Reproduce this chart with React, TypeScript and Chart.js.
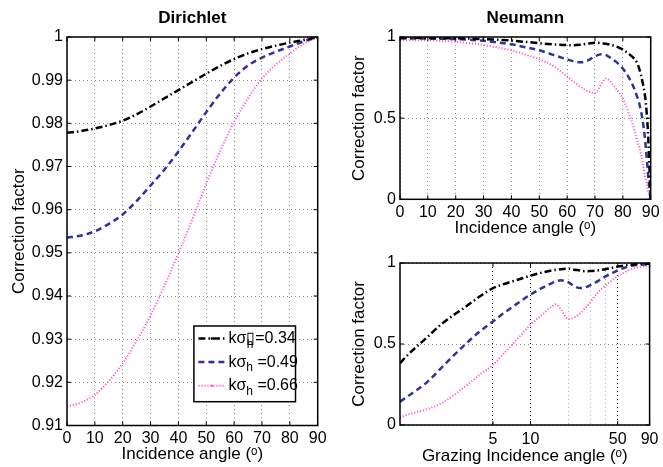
import React, { useEffect, useRef } from 'react';
import Chart from 'chart.js/auto';

// ---------------- data ----------------
const dirichletAngles = [0, 5, 10, 15, 20, 25, 30, 35, 40, 45, 50, 55, 60, 65, 70, 75, 80, 85, 90];
const dirichletK034 = [0.9778, 0.9782, 0.9788, 0.9796, 0.9806, 0.9821, 0.9839, 0.9858, 0.9877, 0.9896, 0.9915, 0.9933, 0.9949, 0.9962, 0.9972, 0.998, 0.9987, 0.9993, 1.0];
const dirichletK049 = [0.9535, 0.954, 0.955, 0.9567, 0.9589, 0.962, 0.9656, 0.9693, 0.9735, 0.978, 0.9826, 0.9869, 0.9906, 0.9934, 0.9952, 0.9966, 0.9978, 0.999, 1.0];
const dirichletK066 = [0.9144, 0.9153, 0.9171, 0.9203, 0.9244, 0.9296, 0.9355, 0.9424, 0.9499, 0.9578, 0.9661, 0.9736, 0.9803, 0.9858, 0.9904, 0.9936, 0.9962, 0.9984, 1.0];

const neumannAngles = [0, 5, 10, 15, 20, 25, 30, 35, 40, 45, 50, 55, 60, 62.5, 65, 67.5, 70, 72.5, 74, 75, 77.5, 80, 82, 84, 85, 86, 87, 88, 88.5, 89, 89.1, 90];
const neumannK034 = [0.995, 0.995, 0.994, 0.993, 0.992, 0.99, 0.987, 0.983, 0.978, 0.97, 0.962, 0.955, 0.95, 0.949, 0.953, 0.959, 0.965, 0.962, 0.958, 0.955, 0.942, 0.922, 0.898, 0.868, 0.845, 0.798, 0.728, 0.632, 0.545, 0.42, 0.381, 0];
const neumannK049 = [0.99, 0.99, 0.99, 0.989, 0.987, 0.983, 0.977, 0.967, 0.955, 0.937, 0.918, 0.89, 0.862, 0.85, 0.845, 0.856, 0.882, 0.893, 0.888, 0.878, 0.848, 0.805, 0.755, 0.686, 0.639, 0.583, 0.498, 0.365, 0.268, 0.168, 0.144, 0];
const neumannK066 = [0.98, 0.98, 0.979, 0.976, 0.97, 0.962, 0.951, 0.936, 0.918, 0.892, 0.862, 0.822, 0.757, 0.722, 0.69, 0.665, 0.655, 0.715, 0.745, 0.735, 0.683, 0.62, 0.538, 0.435, 0.371, 0.315, 0.238, 0.14, 0.099, 0.06, 0.045, 0];

const legendValues = ['0.34', '0.49', '0.66'];
const incidenceTicks = [0, 10, 20, 30, 40, 50, 60, 70, 80, 90];
const grazingTicks = [5, 10, 20, 30, 40, 50, 90];
const grazingLabelled = [5, 10, 50, 90];

// ---------------- styles ----------------
const FONT = "'Liberation Sans', Arial, Helvetica, sans-serif";
const seriesStyles = [
  { color: '#000000', dash: [7, 3, 1.5, 3], width: 2.5 },
  { color: '#30339a', dash: [6, 4], width: 2.5 },
  { color: '#ff5fc8', dash: [1.2, 1.8], width: 2 },
];
const GRID = '#8c8c8c';

const fmt = (v: number) => String(Number((+v).toFixed(2)));

const framePlugin = {
  id: 'matlabFrame',
  afterDraw(chart: any) {
    const { ctx, chartArea } = chart;
    const { left, right, top, bottom } = chartArea;
    const xs = chart.scales.x;
    const ys = chart.scales.y;
    const tl = 4;
    ctx.save();
    ctx.setLineDash([]);
    ctx.strokeStyle = '#000';
    ctx.lineWidth = 1;
    ctx.beginPath();
    xs.ticks.forEach((t: any) => {
      if (t.label === '' || t.label === undefined) return;
      const px = xs.getPixelForValue(t.value);
      ctx.moveTo(px, bottom);
      ctx.lineTo(px, bottom - tl);
      ctx.moveTo(px, top);
      ctx.lineTo(px, top + tl);
    });
    ys.ticks.forEach((t: any) => {
      const py = ys.getPixelForValue(t.value);
      ctx.moveTo(left, py);
      ctx.lineTo(left + tl, py);
      ctx.moveTo(right, py);
      ctx.lineTo(right - tl, py);
    });
    ctx.stroke();
    ctx.lineWidth = 1.5;
    ctx.strokeRect(left, top, right - left, bottom - top);
    ctx.restore();
  },
};

const legendPlugin = {
  id: 'kLegend',
  afterDraw(chart: any) {
    const { ctx, chartArea } = chart;
    const w = 101.6;
    const h = 75.7;
    const bx = chartArea.right - 22.2 - w;
    const by = chartArea.bottom - 23.8 - h;
    ctx.save();
    ctx.fillStyle = '#fff';
    ctx.fillRect(bx, by, w, h);
    ctx.setLineDash([]);
    ctx.strokeStyle = '#000';
    ctx.lineWidth = 1.5;
    ctx.strokeRect(bx, by, w, h);
    legendValues.forEach((val, i) => {
      const y = by + 12.5 + i * 23.6;
      const st = seriesStyles[i];
      ctx.strokeStyle = st.color;
      ctx.lineWidth = st.width;
      ctx.setLineDash(st.dash);
      ctx.beginPath();
      ctx.moveTo(bx + 4.5, y);
      ctx.lineTo(bx + 31, y);
      ctx.stroke();
      ctx.setLineDash([]);
      ctx.fillStyle = st.color;
      ctx.beginPath();
      ctx.arc(bx + 18, y, 1.3, 0, Math.PI * 2);
      ctx.fill();
      ctx.fillStyle = '#000';
      ctx.textBaseline = 'middle';
      ctx.textAlign = 'left';
      ctx.font = `16px ${FONT}`;
      let x = bx + 34.5;
      ctx.fillText('kσ', x, y);
      x += ctx.measureText('kσ').width;
      if (i === 0) {
        ctx.font = `16px ${FONT}`;
        ctx.fillText('\u25AF', x, y);
        const wb = ctx.measureText('\u25AF').width;
        ctx.font = `12px ${FONT}`;
        ctx.fillText('h', x + 0.5, y + 6);
        ctx.font = `16px ${FONT}`;
        ctx.fillText('=' + val, x + wb, y);
      } else {
        ctx.font = `12px ${FONT}`;
        ctx.fillText('h', x, y + 6);
        const wh = ctx.measureText('h').width;
        ctx.font = `16px ${FONT}`;
        ctx.fillText(' =' + val, x + wh, y);
      }
    });
    ctx.restore();
  },
};

const identity = (x: number) => x;

function datasets(xs: number[], series: number[][], mapX: (x: number) => number = identity) {
  return series.map((ys, i) => {
    let pts = xs.map((x, j) => ({ x: mapX(x), y: ys[j] }));
    if (mapX !== identity) pts = pts.filter((p) => p.x > 0);
    pts.sort((a, b) => a.x - b.x);
    const st = seriesStyles[i];
    return {
      data: pts,
      borderColor: st.color,
      backgroundColor: st.color,
      borderWidth: st.width,
      borderDash: st.dash,
      pointRadius: 0,
      fill: false,
      cubicInterpolationMode: 'monotone' as const,
    };
  });
}

const tickFont = { family: FONT, size: 16 };
const titleFont = { family: FONT, size: 17 };

function makeYScale(min: number, max: number, step: number, width: number, titlePad: number) {
  return {
    type: 'linear',
    min,
    max,
    afterFit: (s: any) => {
      s.width = width;
    },
    ticks: { stepSize: step, padding: 4, color: '#000', font: tickFont, callback: (v: any) => fmt(v) },
    grid: { color: GRID, lineWidth: 1, drawTicks: false },
    border: { display: false, dash: [1, 3] },
    title: { display: true, text: 'Correction factor', color: '#000', font: titleFont, padding: { top: titlePad, bottom: 0 } },
  };
}

export default function App() {
  const refA = useRef<HTMLCanvasElement>(null);
  const refB = useRef<HTMLCanvasElement>(null);
  const refC = useRef<HTMLCanvasElement>(null);

  useEffect(() => {
    const common = {
      animation: false,
      responsive: false,
      devicePixelRatio: 1,
      events: [],
    };

    const chartA = new Chart(refA.current!, {
      type: 'line',
      data: { datasets: datasets(dirichletAngles, [dirichletK034, dirichletK049, dirichletK066]) as any },
      options: {
        ...common,
        layout: { padding: { right: 10.5, left: 0, top: 0, bottom: 0 } },
        plugins: {
          legend: { display: false },
          tooltip: { enabled: false },
          title: {
            display: true,
            text: 'Dirichlet',
            fullSize: false,
            color: '#000',
            font: { family: FONT, size: 17, weight: 'bold' },
            padding: { top: 7.8, bottom: 8.8 },
          },
        },
        scales: {
          x: {
            type: 'linear',
            min: 0,
            max: 90,
            afterFit: (s: any) => {
              s.height = 41.5;
            },
            afterBuildTicks: (s: any) => {
              s.ticks = incidenceTicks.map((v) => ({ value: v }));
            },
            ticks: { padding: 3.4, maxRotation: 0, autoSkip: false, color: '#000', font: tickFont, callback: (v: any) => String(v) },
            grid: { color: GRID, lineWidth: 1, drawTicks: false },
            border: { display: false, dash: [1, 3] },
            title: { display: true, text: 'Incidence angle (ᵒ)', color: '#000', font: titleFont, padding: { top: 0, bottom: 2.8 } },
          },
          y: makeYScale(0.91, 1, 0.01, 67, 9),
        },
      } as any,
      plugins: [framePlugin, legendPlugin],
    });

    const chartB = new Chart(refB.current!, {
      type: 'line',
      data: { datasets: datasets(neumannAngles, [neumannK034, neumannK049, neumannK066]) as any },
      options: {
        ...common,
        layout: { padding: { right: 11, left: 0, top: 0, bottom: 0 } },
        plugins: {
          legend: { display: false },
          tooltip: { enabled: false },
          title: {
            display: true,
            text: 'Neumann',
            fullSize: false,
            color: '#000',
            font: { family: FONT, size: 17, weight: 'bold' },
            padding: { top: 7.8, bottom: 8.8 },
          },
        },
        scales: {
          x: {
            type: 'linear',
            min: 0,
            max: 90,
            afterFit: (s: any) => {
              s.height = 40.7;
            },
            afterBuildTicks: (s: any) => {
              s.ticks = incidenceTicks.map((v) => ({ value: v }));
            },
            ticks: { padding: 3.4, maxRotation: 0, autoSkip: false, color: '#000', font: tickFont, callback: (v: any) => String(v) },
            grid: { color: GRID, lineWidth: 1, drawTicks: false },
            border: { display: false, dash: [1, 3] },
            title: { display: true, text: 'Incidence angle (ᵒ)', color: '#000', font: titleFont, padding: { top: 0, bottom: 1.3 } },
          },
          y: makeYScale(0, 1, 0.5, 70, 18.8),
        },
      } as any,
      plugins: [framePlugin],
    });

    const chartC = new Chart(refC.current!, {
      type: 'line',
      data: {
        datasets: datasets(neumannAngles, [neumannK034, neumannK049, neumannK066], (a) => Number((90 - a).toFixed(3))) as any,
      },
      options: {
        ...common,
        layout: { padding: { right: 11, left: 0, top: 23, bottom: 0 } },
        plugins: {
          legend: { display: false },
          tooltip: { enabled: false },
          title: { display: false },
        },
        scales: {
          x: {
            type: 'logarithmic',
            min: 0.9,
            max: 90,
            afterFit: (s: any) => {
              s.height = 42;
            },
            afterBuildTicks: (s: any) => {
              s.ticks = grazingTicks.map((v) => ({ value: v }));
            },
            ticks: {
              padding: 4.5,
              maxRotation: 0,
              autoSkip: false,
              color: '#000',
              font: tickFont,
              callback: (v: any) => (grazingLabelled.includes(Number(v)) ? String(v) : ''),
            },
            grid: {
              color: (c: any) => (c.tick && [20, 30, 40].includes(c.tick.value) ? '#b4b4b4' : '#000'),
              lineWidth: 1,
              drawTicks: false,
            },
            border: { display: false, dash: [1, 3] },
            title: { display: true, text: 'Grazing Incidence angle (ᵒ)', color: '#000', font: titleFont, padding: { top: 0, bottom: 0.8 } },
          },
          y: makeYScale(0, 1, 0.5, 70, 18.8),
        },
      } as any,
      plugins: [framePlugin],
    });

    return () => {
      chartA.destroy();
      chartB.destroy();
      chartC.destroy();
    };
  }, []);

  return (
    <div style={{ position: 'absolute', left: 0, top: 0, width: 663, height: 467, background: '#fff', overflow: 'hidden' }}>
      <canvas ref={refA} width={330} height={467} style={{ position: 'absolute', left: 0, top: 0, width: 330, height: 467 }} />
      <canvas ref={refB} width={333} height={240} style={{ position: 'absolute', left: 330, top: 0, width: 333, height: 240 }} />
      <canvas ref={refC} width={333} height={227} style={{ position: 'absolute', left: 330, top: 240, width: 333, height: 227 }} />
    </div>
  );
}
